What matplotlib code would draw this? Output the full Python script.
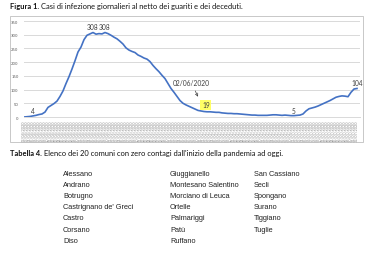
import numpy as np
import pandas as pd
import matplotlib
matplotlib.use("Agg")
import matplotlib.pyplot as plt
from matplotlib.patches import Rectangle

# casi attivi giornalieri
dates = pd.date_range("2020-04-02", periods=112, freq="D")
date_labels = [d.strftime("%d/%m/%Y") for d in dates]
cases = [0, 1, 2, 4, 6, 9, 11, 18, 35, 42, 49, 58, 75, 95, 122, 147, 175, 205,
         237, 255, 282, 298, 303, 308, 302, 304, 303, 308, 304, 298, 291, 285,
         276, 266, 252, 244, 239, 235, 226, 221, 215, 211, 202, 188, 176, 165,
         152, 140, 122, 104, 90, 75, 60, 50, 44, 39, 34, 29, 24, 22, 20, 19,
         19, 18, 17, 17, 15, 14, 13, 13, 12, 12, 11, 10, 9, 8, 7, 7, 6, 6, 6,
         6, 7, 8, 8, 7, 6, 7, 6, 5, 5, 6, 7, 11, 22, 30, 33, 36, 40, 45, 50,
         55, 60, 66, 72, 75, 77, 76, 74, 90, 102, 104]

# etichette sui punti: (indice, testo)
point_labels = [(3, "4"), (23, "308"), (27, "308"), (90, "5"), (111, "104")]
highlight_idx = 61
highlight_date = "02/06/2020"

# tabella comuni
col1 = ["Alessano", "Andrano", "Botrugno", "Castrignano de' Greci", "Castro",
        "Corsano", "Diso"]
col2 = ["Giuggianello", "Montesano Salentino", "Morciano di Leuca", "Ortelle",
        "Palmariggi", "Patù", "Ruffano"]
col3 = ["San Cassiano", "Secli", "Spongano", "Surano", "Tiggiano", "Tuglie"]

W, H = 380, 255
fig = plt.figure(figsize=(W / 100, H / 100), dpi=100)
fig.patch.set_facecolor("white")
renderer = fig.canvas.get_renderer()

def fx(px):
    return px / W

def fy(py):
    return 1 - py / H

def caption(py, bold, rest, size=5.4):
    t = fig.text(fx(10), fy(py), bold, fontsize=size, fontweight="bold",
                 family="Lato", va="center", ha="left", color="#111111")
    bb = t.get_window_extent(renderer)
    fig.text(bb.x1 / W + fx(2), fy(py), rest, fontsize=size, family="Lato",
             va="center", ha="left", color="#111111")

# titolo figura
caption(7, "Figura 1.", "Casi di infezione giornalieri al netto dei guariti e dei deceduti.")

# cornice del grafico
fig.add_artist(Rectangle((fx(10), fy(143)), fx(353), (143 - 17) / H,
                         transform=fig.transFigure, fill=False,
                         edgecolor="#bfbfbf", linewidth=0.6))

ax = fig.add_axes([fx(24), fy(118), fx(336), (118 - 22) / H])
x = np.arange(len(cases))
ax.plot(x, cases, color="#4472c4", linewidth=1.2, solid_joinstyle="round")
ax.set_ylim(0, 350)
ax.set_xlim(0, 112)
ax.set_yticks(range(0, 351, 50))
ax.tick_params(axis="y", labelsize=2.8, colors="#595959", length=0, pad=4)
ax.set_xticks(x)
ax.set_xticklabels(date_labels, rotation=90, fontsize=2.8, color="#8c8c8c",
                   family="Lato")
ax.tick_params(axis="x", length=0, pad=1.5)
ax.grid(axis="y", color="#d9d9d9", linewidth=0.7)
ax.set_axisbelow(True)
for s in ["top", "right", "left"]:
    ax.spines[s].set_visible(False)
ax.spines["bottom"].set_color("#d9d9d9")
ax.spines["bottom"].set_linewidth(0.7)

for i, t in point_labels:
    ax.annotate(t, (x[i], cases[i]), xytext=(0, 1.5), textcoords="offset points",
                ha="center", va="bottom", fontsize=4.8, family="Lato",
                color="#404040")

ax.annotate(str(cases[highlight_idx]), (x[highlight_idx], cases[highlight_idx]),
            xytext=(-0.8, 2.5), textcoords="offset points", ha="center", va="bottom",
            fontsize=4.8, family="Lato", color="#404040",
            bbox=dict(boxstyle="square,pad=0.25", fc="#ffff66", ec="none"))
ax.annotate(highlight_date, (58, 74), xytext=(55.7, 127),
            textcoords="data", ha="center", va="center", fontsize=4.8,
            family="Lato", color="#404040",
            arrowprops=dict(arrowstyle="->", color="#404040", lw=0.5,
                            shrinkA=2, shrinkB=0))

# tabella
caption(154, "Tabella 4.", "Elenco dei 20 comuni con zero contagi dall'inizio della pandemia ad oggi.")

row_y = [174, 186, 197, 208, 219, 231, 242]
for cx, col in zip([63, 170, 254], [col1, col2, col3]):
    for name, ry in zip(col, row_y):
        fig.text(fx(cx), fy(ry), name, fontsize=5.3, family="Liberation Sans",
                 va="center", ha="left", color="#222222")

fig.savefig("out.png", dpi=100)
